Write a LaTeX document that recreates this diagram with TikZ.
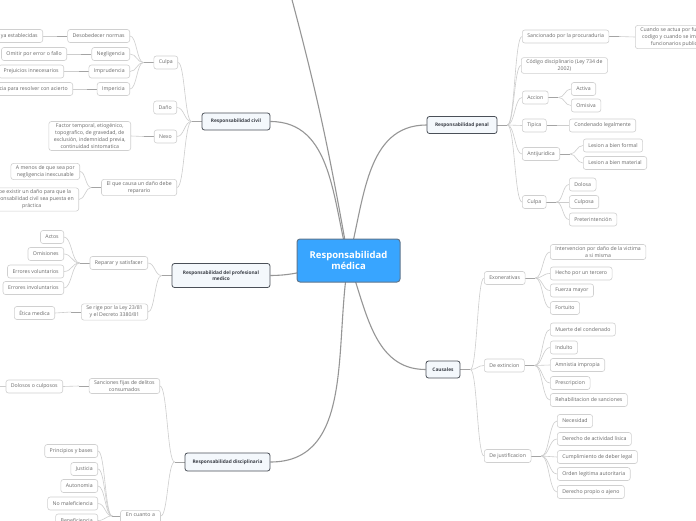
\documentclass[tikz,border=0pt]{standalone}
\usepackage{fontspec}
\setmainfont{Open Sans}
\usetikzlibrary{calc,backgrounds}
\definecolor{mblue}{RGB}{56,165,255}
\definecolor{mbord}{RGB}{96,118,140}
\definecolor{tfill}{RGB}{244,248,252}
\definecolor{tbord}{RGB}{75,80,88}
\definecolor{ttext}{RGB}{60,64,72}
\definecolor{sbord}{RGB}{208,208,208}
\definecolor{stext}{RGB}{105,105,105}
\definecolor{lmain}{RGB}{150,150,150}
\definecolor{lsub}{RGB}{205,205,205}

\begin{document}
\begin{tikzpicture}[x=1pt,y=-1pt,
  mn/.style={draw=mbord, fill=mblue, rounded corners=3pt, line width=1pt, text=white,
    font=\fontsize{9.5}{11.5}\selectfont\bfseries, align=center, minimum width=103pt, minimum height=43pt},
  tp/.style={draw=tbord, fill=tfill, rounded corners=2.5pt, line width=0.8pt, text=ttext,
    font=\fontsize{4.8}{6.5}\selectfont\bfseries, align=center, minimum height=17pt, inner xsep=4pt},
  sb/.style={draw=sbord, fill=white, rounded corners=2.5pt, line width=0.6pt, text=stext,
    font=\fontsize{5.2}{7}\selectfont, align=center, minimum height=13pt, inner xsep=5pt, inner ysep=2pt},
  sl/.style={sb, anchor=east},
  sr/.style={sb, anchor=west},
  ml/.style={draw=lmain, line width=1.1pt},
  ln/.style={draw=lsub, line width=0.6pt},
  hb/.style={draw=lsub!80!black, line width=0.9pt},
  br/.style={to path={.. controls ($(\tikztostart)!0.5!(\tikztostart-|\tikztotarget)$)
    and ($(\tikztotarget)!0.5!(\tikztotarget-|\tikztostart)$) .. (\tikztotarget)}}]
\useasboundingbox (0,0) rectangle (696,520);

% centre and main topics
\node[mn] (med) at (348.5,260.5) {Responsabilidad\\médica};
\node[tp, minimum width=68pt] (civ) at (236,121.5) {Responsabilidad civil};
\node[tp, minimum width=98pt, minimum height=24pt] (prof) at (221,275.5) {Responsabilidad del profesional\\medico};
\node[tp, minimum width=85pt, minimum height=18pt] (dis) at (227.5,462) {Responsabilidad disciplinaria};
\node[tp, minimum width=70pt] (pen) at (462,125) {Responsabilidad penal};
\node[tp, minimum width=34pt] (cau) at (443,369.5) {Causales};

% responsabilidad civil
\node[sl] (cul) at (178,62.5) {Culpa};
\node[sl] (dan) at (177,107.5) {Daño};
\node[sl] (nex) at (177,136.5) {Nexo};
\node[sl] (rep) at (177,187.5) {El que causa un daño debe\\reparario};
\node[sl] (des) at (130,36) {Desobedecer normas};
\node[sl] (neg) at (130,54) {Negligencia};
\node[sl] (imp) at (130,71.5) {Imprudencia};
\node[sl] (ipr) at (130,89) {Impericia};
\node[sl] (nor) at (43,36) {Normas ya establecidas};
\node[sl] (omi) at (67,54) {Omitir por error o fallo};
\node[sl] (pre) at (64,71.5) {Prejuicios innecesarios};
\node[sl] (fal) at (73,89) {Falta de experiencia para resolver con acierto};
\node[sl] (fac) at (131,136) {Factor temporal, etiogénico,\\topografico, de gravedad, de\\exclusión, indemnidad previa,\\continuidad sintomatica};
\node[sl] (amn) at (80,171.5) {A menos de que sea por\\negligencia inexcusable};
\node[sl] (exi) at (79,199.5) {Debe existir un daño para que la\\responsabilidad civil sea puesta en\\práctica};

% profesional medico
\node[sl] (rys) at (148,263) {Reparar y satisfacer};
\node[sl] (act) at (64,237) {Actos};
\node[sl] (oms) at (64,254) {Omisiones};
\node[sl] (evo) at (64,271.5) {Errores voluntarios};
\node[sl] (ein) at (64,288) {Errores involuntarios};
\node[sl] (rig) at (148,312) {Se rige por la Ley 23/81\\y el Decreto 3380/81};
\node[sl] (eti) at (55,313) {Ética medica};

% disciplinaria
\node[sl] (san) at (160,386) {Sanciones fijas de delitos\\consumados};
\node[sl] (dol) at (63,386.5) {Dolosos o culposos};
\node[sb, anchor=north, text width=30pt] (enc) at (140.5,510) {En cuanto a\\ \strut};
\node[sl] (pri) at (98,451) {Principios y bases};
\node[sl] (jus) at (98,469) {Justicia};
\node[sl] (aut) at (98,486) {Autonomia};
\node[sl] (nom) at (98,503.5) {No maleficiencia};
\node[sl] (ben) at (98,520.5) {Beneficiencia};
\coordinate (encE) at ($(enc.north east)+(0,6)$);
\coordinate (encW) at ($(enc.north west)+(0,6)$);
\coordinate (dolx) at (-8,386.5);
\coordinate (topx) at (291,-4);

% responsabilidad penal
\node[sr] (sap) at (522,36.5) {Sancionado por la procuraduria};
\node[sr] (cua) at (635,37) {Cuando se actua por fuera del\\codigo y cuando se implica a\\funcionarios publicos};
\node[sr] (cod) at (521,65.5) {Código disciplinario (Ley 734 de\\2002)};
\node[sr] (acc) at (522,97.5) {Accion};
\node[sr] (acv) at (571,89) {Activa};
\node[sr] (omv) at (571,105.5) {Omisiva};
\node[sr] (tip) at (522,125.5) {Tipica};
\node[sr] (con) at (569,125.5) {Condenado legalmente};
\node[sr] (ant) at (522,154) {Antijuridica};
\node[sr] (lbf) at (583,145.5) {Lesion a bien formal};
\node[sr] (lbm) at (583,163) {Lesion a bien material};
\node[sr] (clp) at (522,202) {Culpa};
\node[sr] (dls) at (569,184.5) {Dolosa};
\node[sr] (cps) at (569,202) {Culposa};
\node[sr] (ptr) at (569,219.5) {Preterintención};

% causales
\node[sr] (exo) at (484,278) {Exonerativas};
\node[sr] (int) at (550,252) {Intervencion por daño de la victima\\a si misma};
\node[sr] (hec) at (550,273.5) {Hecho por un tercero};
\node[sr] (fue) at (550,290.5) {Fuerza mayor};
\node[sr] (fto) at (550,308) {Fortuito};
\node[sr] (ext) at (484,365.5) {De extincion};
\node[sr] (mue) at (550,329.5) {Muerte del condenado};
\node[sr] (ind) at (550,347.5) {Indulto};
\node[sr] (ami) at (550,365) {Amnistia impropia};
\node[sr] (pcr) at (550,383) {Prescripcion};
\node[sr] (reh) at (550,400) {Rehabilitacion de sanciones};
\node[sr] (jst) at (484,456) {De justificacion};
\node[sr] (nec) at (557,421) {Necesidad};
\node[sr] (dal) at (557,439) {Derecho de actividad lisica};
\node[sr] (cum) at (557,457) {Cumplimiento de deber legal};
\node[sr] (ord) at (557,474) {Orden legitima autoritaria};
\node[sr] (dpa) at (557,492) {Derecho propio o ajeno};

\begin{scope}[on background layer]
\fill[white] (0,0) rectangle (696,520);
% main branches
\draw[ml] (med.center) to[out=100,in=-75] (topx);
\draw[ml] (med.center) to[out=105,in=0] (civ.east);
\draw[ml] (med.center) to[out=190,in=0] (prof.east);
\draw[ml] (med.center) to[out=-100,in=0] (dis.east);
\draw[ml] (med.center) to[out=75,in=180] (pen.west);
\draw[ml] (med.center) to[out=-70,in=180] (cau.west);
% hubs
\foreach \p in {pen,sap,acc,tip,ant,clp,cau,exo,ext,jst}{
  \draw[hb] (\p.east) -- ++(10,0) coordinate (h\p);}
\foreach \p in {civ,cul,des,neg,imp,ipr,nex,rep,prof,rys,rig,dis,san}{
  \draw[hb] (\p.west) -- ++(-10,0) coordinate (h\p);}
\draw[hb] (encW) -- ++(-8,0) coordinate (henc);
\draw[ln] (dol.west) -- (dolx);
% sub branches
\foreach \p/\q in {pen/sap,pen/cod,pen/acc,pen/tip,pen/ant,pen/clp,sap/cua,acc/acv,acc/omv,
  tip/con,ant/lbf,ant/lbm,clp/dls,clp/cps,clp/ptr,cau/exo,cau/ext,cau/jst,
  exo/int,exo/hec,exo/fue,exo/fto,ext/mue,ext/ind,ext/ami,ext/pcr,ext/reh,
  jst/nec,jst/dal,jst/cum,jst/ord,jst/dpa}{
  \draw[ln] (h\p) to[br] (\q.west);}
\foreach \p/\q in {civ/cul,civ/dan,civ/nex,civ/rep,cul/des,cul/neg,cul/imp,cul/ipr,
  des/nor,neg/omi,imp/pre,ipr/fal,nex/fac,rep/amn,rep/exi,prof/rys,prof/rig,
  rys/act,rys/oms,rys/evo,rys/ein,rig/eti,dis/san,san/dol,
  enc/pri,enc/jus,enc/aut,enc/nom,enc/ben}{
  \draw[ln] (h\p) to[br] (\q.east);}
\draw[ln] (hdis) to[br] (encE);
\end{scope}
\end{tikzpicture}
\end{document}
